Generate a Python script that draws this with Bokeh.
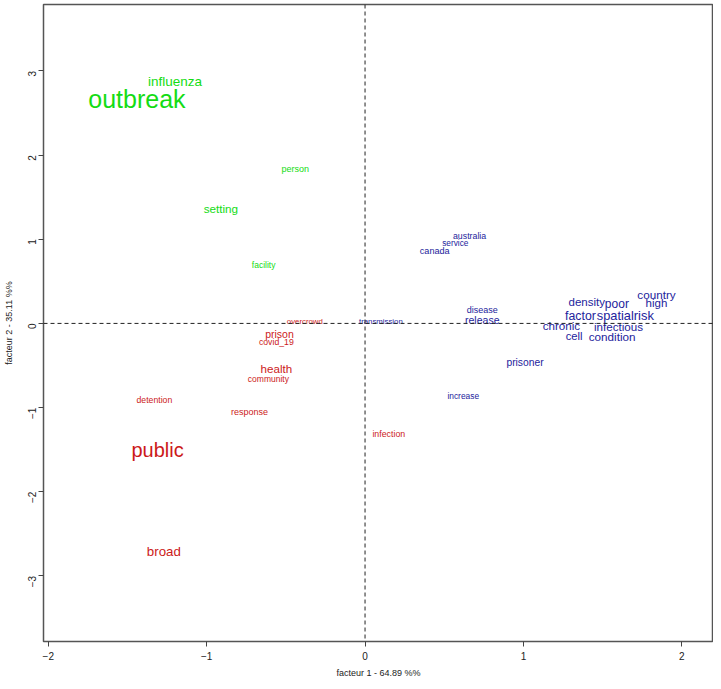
import math
from bokeh.plotting import figure
from bokeh.models import ColumnDataSource, Span, FixedTicker
from bokeh.core.properties import value
from bokeh.embed import file_html
from bokeh.resources import INLINE

# ---- data ----
words = ["outbreak", "influenza", "person", "setting", "facility",
         "overcrowd", "prison", "covid_19", "health", "community",
         "response", "detention", "public", "broad", "infection",
         "transmission", "disease", "release", "density", "poor",
         "country", "high", "factor", "spatial", "risk",
         "chronic", "infectious", "cell", "condition", "prisoner",
         "increase", "australia", "service", "canada"]
factor1 = [-1.44, -1.20, -0.44, -0.91, -0.64,
           -0.38, -0.54, -0.56, -0.56, -0.61,
           -0.73, -1.33, -1.31, -1.27, 0.15,
           0.10, 0.74, 0.74, 1.40, 1.59,
           1.84, 1.84, 1.36, 1.58, 1.76,
           1.24, 1.60, 1.32, 1.56, 1.01,
           0.62, 0.66, 0.57, 0.44]
factor2 = [2.67, 2.88, 1.84, 1.37, 0.69,
           0.02, -0.13, -0.22, -0.53, -0.66,
           -1.05, -0.91, -1.50, -2.71, -1.32,
           0.02, 0.16, 0.04, 0.25, 0.23,
           0.34, 0.24, 0.09, 0.10, 0.10,
           -0.03, -0.04, -0.15, -0.16, -0.47,
           -0.86, 1.04, 0.95, 0.86]
weight = [2.5, 1.35, 0.9, 1.17, 0.85,
          0.78, 1.05, 0.87, 1.16, 0.85,
          0.9, 0.87, 2.0, 1.33, 0.88,
          0.78, 0.9, 1.05, 1.15, 1.2,
          1.17, 1.15, 1.23, 1.28, 1.29,
          1.16, 1.16, 1.12, 1.17, 1.03,
          0.84, 0.88, 0.83, 0.91]
cluster = [1, 1, 1, 1, 1,
           2, 2, 2, 2, 2, 2, 2, 2, 2, 2,
           3, 3, 3, 3, 3, 3, 3, 3, 3, 3, 3, 3, 3, 3, 3, 3, 3, 3, 3]
x_ticks = [-2, -1, 0, 1, 2]
y_ticks = [-3, -2, -1, 0, 1, 2, 3]
x_label = "facteur 1 - 64.89 %%"
y_label = "facteur 2 - 35.11 %%"

# ---- styling ----
palette = {1: "#14dc14", 2: "#cc1a1a", 3: "#23239c"}
BASE_PX = 10
FONT = "Liberation Sans"

src = ColumnDataSource(dict(
    x=factor1, y=factor2, w=words,
    size=["%.1fpx" % (BASE_PX * c) for c in weight],
    color=[palette[k] for k in cluster],
))

p = figure(width=713, height=680, output_backend="svg", toolbar_location=None,
           x_range=(-2.03, 2.20), y_range=(-3.78, 3.79),
           min_border=0, min_border_left=35, min_border_right=0,
           min_border_top=4)
p.grid.visible = False
p.outline_line_color = "#555555"
p.outline_line_width = 1.5
p.background_fill_color = "white"

for ax in (p.xaxis[0], p.yaxis[0]):
    ax.axis_line_color = None
    ax.major_tick_in = 0
    ax.major_tick_out = 5
    ax.major_tick_line_color = "#444444"
    ax.minor_tick_line_color = None
    ax.major_label_text_font = FONT
    ax.major_label_text_font_size = "10px"
    ax.major_label_text_color = "#222222"
    ax.axis_label_text_font = FONT
    ax.axis_label_text_font_size = "9px"
    ax.axis_label_text_font_style = "normal"
    ax.axis_label_text_color = "#222222"

p.xaxis[0].ticker = FixedTicker(ticks=x_ticks)
p.yaxis[0].ticker = FixedTicker(ticks=y_ticks)
p.xaxis[0].axis_label = x_label
p.yaxis[0].axis_label = y_label
p.xaxis[0].major_label_standoff = 5
p.xaxis[0].axis_label_standoff = 5
p.yaxis[0].major_label_orientation = math.pi / 2
p.yaxis[0].major_label_standoff = 6
p.yaxis[0].axis_label_standoff = 8

p.add_layout(Span(location=0, dimension="width", line_color="#222222",
                  line_dash="4 3", line_width=1))
p.add_layout(Span(location=0, dimension="height", line_color="#222222",
                  line_dash="4 3", line_width=1))

p.text(x="x", y="y", text="w", source=src, text_font=value(FONT),
       text_font_size="size", text_color="color",
       text_align="center", text_baseline="middle")

open("out.html", "w").write(file_html(p, INLINE))
